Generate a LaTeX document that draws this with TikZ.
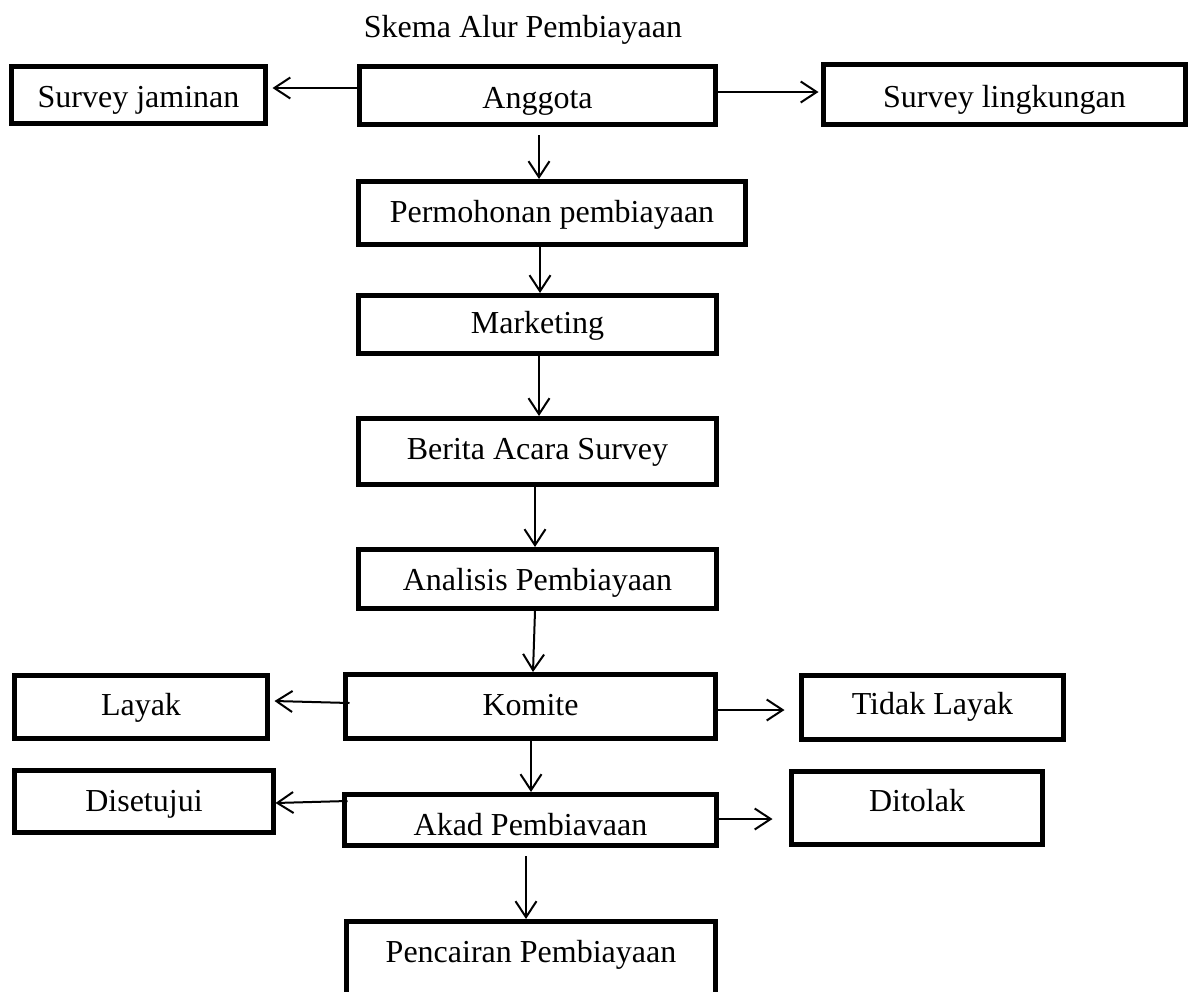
\documentclass[tikz,border=0pt]{standalone}
\usepackage{fontspec}
\setmainfont{Liberation Serif}
\usetikzlibrary{arrows.meta}
\begin{document}
\begin{tikzpicture}[x=1pt,y=-1pt,
  box/.style={draw=black,line width=5pt,fill=white,inner sep=0pt,text depth=0pt,
    font=\fontsize{32}{38}\selectfont},
  ttl/.style={inner sep=0pt,font=\fontsize{32}{38}\selectfont},
  arr/.style={line width=2pt,-{Straight Barb[length=16pt,width=21pt,line width=2pt]}}]
\useasboundingbox (0,0) rectangle (1189,991);
\clip (0,0) rectangle (1189,991);
% title
\node[ttl,anchor=base] (title) at (523,37) {Skema Alur Pembiayaan};
% top row
\node[box,minimum width=254pt,minimum height=57pt,text height=24pt] (sj) at (138.5,95) {Survey jaminan};
\node[box,minimum width=356pt,minimum height=58pt,text height=25pt] (ang) at (537.5,95.5) {Anggota};
\node[box,minimum width=362pt,minimum height=60pt,text height=25pt] (sl) at (1004.5,94.5) {Survey lingkungan};
% main column
\node[box,minimum width=387pt,minimum height=63pt,text height=18pt] (perm) at (552,213) {Permohonan pembiayaan};
\node[box,minimum width=358pt,minimum height=58pt,text height=17pt] (mkt) at (537.5,324.5) {Marketing};
\node[box,minimum width=358pt,minimum height=66pt,text height=15pt] (ber) at (537.5,451.5) {Berita Acara Survey};
\node[box,minimum width=358pt,minimum height=59pt,text height=22pt] (ana) at (537.5,579) {Analisis Pembiayaan};
\node[box,minimum width=370pt,minimum height=64pt,text height=17pt] (kom) at (530.5,706.5) {Komite};
\node[box,minimum width=372pt,minimum height=51pt,text height=30pt] (akad) at (530.5,820) {Akad Pembiavaan};
\node[box,minimum width=369pt,minimum height=83.5pt,text height=0pt,text depth=2.5pt] (pen) at (531,963.25) {Pencairan Pembiayaan};
% side boxes
\node[box,minimum width=253pt,minimum height=63pt,text height=16pt] (lay) at (141,707) {Layak};
\node[box,minimum width=262pt,minimum height=64pt,text height=13pt] (tl) at (932.5,707.5) {Tidak Layak};
\node[box,minimum width=259pt,minimum height=62pt,text height=19pt] (dis) at (144,801.5) {Disetujui};
\node[box,minimum width=251pt,minimum height=73pt,text height=6pt] (dit) at (917,808) {Ditolak};
% connectors
\draw[arr] ([yshift=7.5pt]ang.west) -- ([xshift=4.5pt,yshift=7pt]sj.east);
\draw[arr] ([yshift=3.5pt]ang.east) -- ([xshift=-2.5pt,yshift=2.5pt]sl.west);
\draw[arr] ([xshift=1.5pt,yshift=-8pt]ang.south) -- ([xshift=1.5pt]ang.south |- perm.north);
\draw[arr] ([xshift=2.5pt]mkt.north |- perm.south) -- ([xshift=2.5pt]mkt.north);
\draw[arr] ([xshift=1.5pt]mkt.south) -- ([xshift=1.5pt]mkt.south |- ber.north);
\draw[arr] ([xshift=-2.5pt]ber.south) -- ([xshift=-2.5pt]ber.south |- ana.north);
\draw[arr] ([xshift=-2.5pt]ana.south) -- ([xshift=2.5pt]kom.north);
\draw[arr] ([xshift=0.5pt]kom.south) -- ([xshift=0.5pt]akad.north);
\draw[arr] ([xshift=-4.5pt,yshift=-8pt]akad.south) -- ([xshift=-5pt]pen.north);
\draw[arr] ([xshift=6.5pt,yshift=3.5pt]kom.west) -- ([xshift=4.5pt,yshift=6pt]lay.east);
\draw[arr] ([yshift=-3.5pt]kom.east) -- ([xshift=-14.5pt,yshift=-2.5pt]tl.west);
\draw[arr] ([xshift=5.5pt,yshift=19pt]akad.west) -- ([xshift=-0.5pt,yshift=-1.5pt]dis.east);
\draw[arr] ([yshift=1pt]akad.east) -- ([xshift=-16.5pt,yshift=-11pt]dit.west);
\end{tikzpicture}
\end{document}
